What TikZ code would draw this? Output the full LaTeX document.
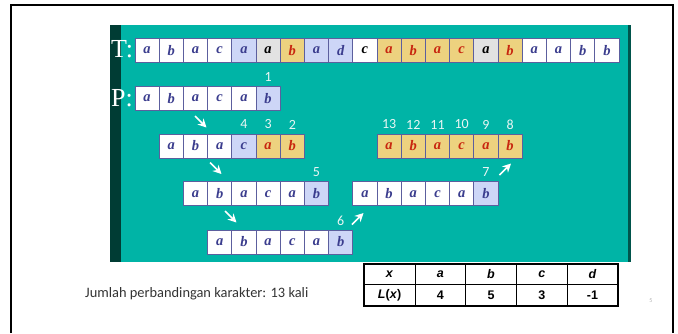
\documentclass[tikz,border=0pt]{standalone}
\usepackage{fontspec}
\setmainfont{Liberation Serif}
\newfontfamily\calib{Carlito}
\newfontfamily\arialf{Liberation Sans}
\usetikzlibrary{arrows.meta}
\definecolor{tealbg}{HTML}{00B4A6}
\definecolor{darkstrip}{HTML}{003C34}
\definecolor{cellblue}{HTML}{CDD6F7}
\definecolor{cellyel}{HTML}{EDD27F}
\definecolor{cellgray}{HTML}{E2E2E2}
\definecolor{cellline}{HTML}{5C5F9E}
\definecolor{txtblue}{HTML}{3B3D8E}
\definecolor{txtred}{HTML}{C8260F}
\definecolor{numcol}{HTML}{EAF6F4}
\tikzset{
  cw/.style={draw=cellline, line width=1pt, minimum width=24.2pt, minimum height=24pt,
    inner sep=0pt, font=\fontsize{14.5}{14.5}\selectfont\bfseries\itshape, text=txtblue, fill=white},
  cb/.style={cw, fill=cellblue},
  cy/.style={cw, fill=cellyel, text=txtred},
  cg/.style={cw, fill=cellgray, text=black},
  ck/.style={cw, text=black},
  num/.style={font=\calib\fontsize{14}{14}\selectfont, text=numcol, inner sep=0pt},
  arr/.style={white, line width=1.6pt, -{Stealth[length=8.5pt,width=8.5pt]}},
  lbl/.style={font=\fontsize{26}{26}\selectfont, text=white, inner sep=0pt, anchor=base west},
  tab/.style={draw=black, line width=0.9pt, minimum width=50.7pt, minimum height=20.3pt,
    inner sep=0pt, font=\arialf\bfseries\fontsize{12.5}{12.5}\selectfont},
}
\newcommand{\cellrow}[4]{%
  \foreach \s/\l [count=\i] in {#4}
    \node[\s] (#1\i) at ({#2+24.2*(\i-0.5)},#3) {\l};}
\begin{document}
\begin{tikzpicture}[x=1pt,y=-1pt]
\useasboundingbox (0,0) rectangle (678,333);
% frame
\draw[line width=1.5pt] (11,333) -- (11,5) -- (673,5) -- (673,333);
% panel
\fill[tealbg] (110,25) rectangle (631,262);
\fill[darkstrip] (110,25) rectangle (121,262);
\fill[darkstrip!80!tealbg] (628,25) rectangle (631,262);
% labels
\node[lbl] (tl) at (111,57) {T:};
\node[lbl] (pl) at (111,106) {P:};
% rows
\cellrow{t}{135}{50.3}{cw/a,cw/b,cw/a,cw/c,cb/a,cg/a,cy/b,cb/a,cb/d,ck/c,cy/a,cy/b,cy/a,cy/c,cg/a,cy/b,cw/a,cw/a,cw/b,cw/b}
\cellrow{p}{135}{98.5}{cw/a,cw/b,cw/a,cw/c,cw/a,cb/b}
\cellrow{r}{159.2}{146}{cw/a,cw/b,cw/a,cb/c,cy/a,cy/b}
\cellrow{s}{183.4}{193.8}{cw/a,cw/b,cw/a,cw/c,cw/a,cb/b}
\cellrow{u}{207.6}{242}{cw/a,cw/b,cw/a,cw/c,cw/a,cb/b}
\cellrow{v}{352.8}{193.8}{cw/a,cw/b,cw/a,cw/c,cw/a,cb/b}
\cellrow{w}{377}{146}{cy/a,cy/b,cy/a,cy/c,cy/a,cy/b}
% comparison numbers
\node[num] (n1) at ([yshift=9pt]p6.north) {1};
\node[num] (n2) at ([yshift=9pt]r6.north) {2};
\node[num] (n3) at ([yshift=9pt]r5.north) {3};
\node[num] (n4) at ([yshift=9pt]r4.north) {4};
\node[num] (n5) at ([yshift=9pt]s6.north) {5};
\node[num] (n6) at ([yshift=9pt]u6.north) {6};
\node[num] (n7) at ([yshift=9pt]v6.north) {7};
\node[num] (n8) at ([yshift=9pt]w6.north) {8};
\node[num] (n9) at ([yshift=9pt]w5.north) {9};
\node[num] (n10) at ([yshift=9pt]w4.north) {10};
\node[num] (n11) at ([yshift=9pt]w3.north) {11};
\node[num] (n12) at ([yshift=9pt]w2.north) {12};
\node[num] (n13) at ([yshift=9pt]w1.north) {13};
% arrows
\coordinate (a1s) at (195,116); \coordinate (a1e) at (206.5,127.5);
\coordinate (a2s) at (210,162.5); \coordinate (a2e) at (221.5,174);
\coordinate (a3s) at (225,211); \coordinate (a3e) at (236.5,222.5);
\coordinate (a4s) at (352,224.5); \coordinate (a4e) at (363.5,213);
\coordinate (a5s) at (499.5,175); \coordinate (a5e) at (511,163.5);
\draw[arr] (a1s) -- (a1e);
\draw[arr] (a2s) -- (a2e);
\draw[arr] (a3s) -- (a3e);
\draw[arr] (a4s) -- (a4e);
\draw[arr] (a5s) -- (a5e);
% bottom text
\node[anchor=base west, inner sep=0pt, font=\calib\fontsize{14.4}{16}\selectfont, text=black!80] (txt) at (85,297) {Jumlah perbandingan karakter: 13 kali};
% table
\foreach \c/\t [count=\i] in {{\textit{x}}/h1,{\textit{a}}/h2,{\textit{b}}/h3,{\textit{c}}/h4,{\textit{d}}/h5}
  \node[tab] (\t) at ({364.3+50.7*(\i-0.5)},274.5) {\c};
\foreach \c/\t [count=\i] in {{\textit{L}(\textit{x})}/v1,4/v2,5/v3,3/v4,-1/v5}
  \node[tab, minimum height=21pt] (\t) at ({364.3+50.7*(\i-0.5)},295) {\c};
\draw[line width=1.6pt] (h1.north west) rectangle (v5.south east);
% page number
\node[font=\calib\fontsize{6}{6}\selectfont, text=black!30, inner sep=0pt] (pg) at (651,301) {5};
\end{tikzpicture}
\end{document}
